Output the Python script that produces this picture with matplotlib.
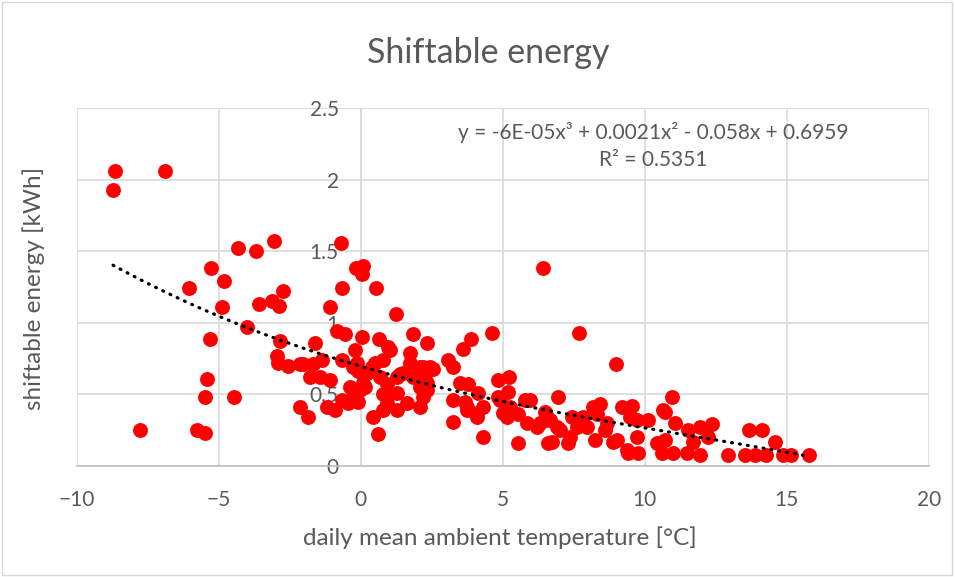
import numpy as np
import matplotlib.pyplot as plt
from matplotlib.patches import Rectangle

# daily mean ambient temperature [°C] and shiftable energy [kWh]
temp = [-8.73, -8.66, -6.9, -7.78, -6.06, -5.28, -4.82, -4.89, -5.32, -5.42,
        -5.49, -4.47, -5.77, -5.49, -4.33, -3.7, -3.06, -4.01, -3.59, -3.13,
        -2.75, -2.89, -2.85, -2.96, -2.92, -2.57, -2.15, -2.15,
        -0.04, -0.18, 0.07, 0.04, -0.67, 0.53, -1.09, 1.23, -0.85, -0.56,
        0.04, 0.63, 1.83, 2.32, -1.62, 0.95, -2.04, -1.69, -1.37, -1.8,
        -1.09, -1.44, -0.67, -0.21, -0.14, -0.11, 0.49, 0.77, 1.02, 1.73,
        1.73, 2.18, 1.37, 0.67, 0.21, -0.39, -0.28, -0.04, 0.14, -0.46,
        -1.2, -0.92, -1.87, -0.67, -0.11, 0.42, 0.6, 0.77, 0.92, 1.27,
        1.62, 2.08, 2.18, 1.27, 2.32, 1.83, 0.92, -0.7,
        -0.28, 0.39, 2.43, 0.07, 1.27, 2.08, 0.92, 0.77,
        1.48, 2.08, 2.54, 2.25, 2.32, 3.87, 3.59, 4.61, 3.06, 3.24,
        3.49, 3.77, 3.24, 3.66, 4.12, 4.3, 4.08, 3.24, 3.73, 4.3,
        4.82, 5.21, 5.18, 4.89, 5.25, 5.0, 5.77, 5.53, 5.85, 5.53,
        6.2, 6.48, 6.58, 6.41,
        3.73, 4.08, 4.82, 5.14, 6.3, 6.55, 6.9,
        7.68, 8.98, 6.94, 5.95, 6.65, 6.48, 7.0, 7.43, 7.6, 7.29,
        6.73, 7.96, 8.17, 8.42, 8.31, 8.24, 8.59, 9.19, 9.54, 9.47,
        8.87, 9.4, 9.75, 9.72, 10.1, 10.42, 10.63, 10.95, 11.06, 10.6,
        10.99,
        7.82, 8.66, 9.72, 9.37, 9.01, 11.48, 7.36,
        10.7, 11.51, 11.94, 12.36, 12.22, 11.69, 10.7, 11.94, 12.92, 13.52,
        13.87, 13.66, 14.12, 14.58, 14.86, 15.14, 15.77, 14.26]
energy = [1.93, 2.06, 2.06, 0.25, 1.24, 1.38, 1.29, 1.11, 0.89, 0.61,
          0.48, 0.48, 0.25, 0.23, 1.52, 1.5, 1.57, 0.97, 1.13, 1.15,
          1.22, 1.12, 0.87, 0.77, 0.72, 0.7, 0.71, 0.41,
          1.38, 1.38, 1.4, 1.34, 1.24, 1.24, 1.11, 1.06, 0.94, 0.92,
          0.9, 0.89, 0.92, 0.86, 0.86, 0.83, 0.71, 0.71, 0.74, 0.62,
          0.6, 0.62, 0.74, 0.81, 0.72, 0.66, 0.72, 0.74, 0.81, 0.79,
          0.72, 0.69, 0.64, 0.62, 0.65, 0.55, 0.48, 0.53, 0.55, 0.44,
          0.41, 0.39, 0.34, 0.46, 0.45, 0.34, 0.22, 0.5, 0.44, 0.39,
          0.44, 0.41, 0.48, 0.51, 0.58, 0.62, 0.57, 1.56,
          0.69, 0.69, 0.69, 0.58, 0.62, 0.55, 0.48, 0.39,
          0.65, 0.69, 0.68, 0.61, 0.53, 0.89, 0.82, 0.93, 0.74, 0.69,
          0.58, 0.57, 0.46, 0.45, 0.51, 0.41, 0.34, 0.31, 0.39, 0.2,
          0.6, 0.62, 0.52, 0.46, 0.41, 0.37, 0.46, 0.36, 0.3, 0.16,
          0.27, 0.32, 0.16, 1.38,
          0.41, 0.37, 0.48, 0.34, 0.3, 0.34, 0.27,
          0.93, 0.71, 0.48, 0.46, 0.32, 0.38, 0.25, 0.34, 0.27, 0.16,
          0.17, 0.27, 0.41, 0.43, 0.36, 0.18, 0.25, 0.41, 0.42, 0.34,
          0.17, 0.09, 0.09, 0.2, 0.32, 0.16, 0.39, 0.48, 0.3, 0.09,
          0.09,
          0.34, 0.3, 0.32, 0.11, 0.18, 0.09, 0.2,
          0.38, 0.25, 0.27, 0.29, 0.2, 0.17, 0.18, 0.08, 0.08, 0.08,
          0.08, 0.25, 0.25, 0.17, 0.08, 0.08, 0.08, 0.08]

# polynomial trendline (order 3) as given on the chart
coef = [-6e-05, 0.0021, -0.058, 0.6959]
eq_text = 'y = -6E-05x³ + 0.0021x² - 0.058x + 0.6959\nR² = 0.5351'

grey = '#595959'
plt.rcParams['font.family'] = ['Lato', 'DejaVu Sans']

fig = plt.figure(figsize=(9.55, 5.77), dpi=100)
ax = fig.add_axes([0.0806, 0.1924, 0.892, 0.6204])

ax.scatter(temp, energy, s=115, color='#ff0000', linewidths=0, zorder=3)

xt = np.linspace(min(temp), max(temp), 200)
ax.plot(xt, np.polyval(coef, xt), color='black', lw=2.3,
        linestyle=(0, (0.3, 2.2)), dash_capstyle='round', zorder=4)

ax.set_xlim(-10, 20)
ax.set_ylim(0, 2.5)
ax.set_xticks(np.arange(-10, 21, 5))
ax.set_yticks(np.arange(0, 2.51, 0.5))
ax.set_yticklabels(['0', '0.5', '1', '1.5', '2', '2.5'])
ax.grid(True, color='#d9d9d9', lw=1.2, zorder=0)
ax.set_axisbelow(True)

for s in ['top', 'right']:
    ax.spines[s].set_visible(False)
ax.spines['left'].set_position(('data', 0))
ax.spines['left'].set_color('#d9d9d9')
ax.spines['bottom'].set_color('#bfbfbf')
ax.spines['bottom'].set_linewidth(1.2)
ax.tick_params(axis='both', length=0, labelsize=15, labelcolor=grey)
ax.tick_params(axis='x', pad=17)
ax.tick_params(axis='y', pad=16)

ax.text(10.28, 2.234, eq_text, ha='center', va='center', fontsize=15,
        color=grey, linespacing=1.45)

fig.text(0.511, 0.908, 'Shiftable energy', ha='center', va='center',
         fontsize=24.5, color=grey)
fig.text(0.523, 0.068, 'daily mean ambient temperature [°C]', ha='center',
         va='center', fontsize=17.5, color=grey)
fig.text(0.035, 0.5, 'shiftable energy [kWh]', ha='center', va='center',
         rotation=90, fontsize=17.5, color=grey)

fig.patches.append(Rectangle((0.002, 0.003), 0.995, 0.993, transform=fig.transFigure,
                             fill=False, edgecolor='#d9d9d9', lw=1))

fig.savefig('out.png', dpi=100)
